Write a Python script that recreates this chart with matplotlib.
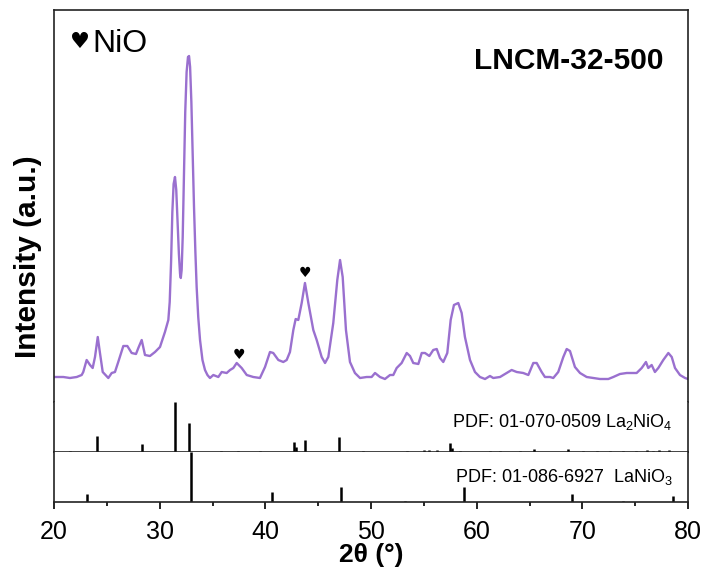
import numpy as np
import matplotlib
matplotlib.use("Agg")
import matplotlib.pyplot as plt

plt.rcParams['font.family'] = ['Liberation Sans', 'DejaVu Sans']
plt.rcParams['mathtext.fontset'] = 'custom'
plt.rcParams['mathtext.rm'] = 'Liberation Sans'
plt.rcParams['mathtext.it'] = 'Liberation Sans:italic'
plt.rcParams['mathtext.bf'] = 'Liberation Sans:bold'

# XRD pattern of LNCM-32-500
two_theta = [20.09, 20.88, 21.51, 22.15, 22.62, 22.77, 23.09, 23.41, 23.66, 23.88,
             24.14, 24.35, 24.61, 25.14, 25.46, 25.77, 26.08, 26.56, 26.94, 27.35,
             27.76, 27.98, 28.30, 28.61, 29.08, 29.56, 30.03, 30.50, 30.82, 30.95,
             31.08, 31.20, 31.32, 31.45, 31.57, 31.70, 31.82, 31.93, 32.00, 32.08,
             32.18, 32.30, 32.42, 32.55, 32.68, 32.78, 32.88, 33.00, 33.12, 33.25,
             33.38, 33.50, 33.65, 33.82, 34.05, 34.29, 34.52, 34.76, 35.08, 35.55,
             35.87, 36.34, 36.66, 36.97, 37.29, 37.76, 38.24, 38.86, 39.49, 39.97,
             40.44, 40.75, 41.23, 41.70, 42.02, 42.33, 42.65, 42.87, 43.12, 43.44,
             43.75, 44.07, 44.54, 44.86, 45.33, 45.65, 45.96, 46.43, 46.81, 47.07,
             47.32, 47.63, 48.01, 48.48, 48.96, 49.59, 50.06, 50.38, 50.85, 51.32,
             51.80, 52.11, 52.43, 52.90, 53.38, 53.69, 54.00, 54.48, 54.80, 55.11,
             55.52, 55.89, 56.22, 56.53, 56.84, 57.22, 57.54, 57.85, 58.26, 58.58,
             58.89, 59.37, 59.84, 60.31, 60.79, 61.26, 61.57, 62.21, 62.84, 63.31,
             63.79, 64.41, 64.89, 65.36, 65.68, 66.15, 66.46, 66.94, 67.25, 67.72,
             68.20, 68.52, 68.83, 69.30, 69.78, 70.41, 71.04, 71.67, 72.46, 72.93,
             73.56, 74.20, 75.14, 75.62, 76.02, 76.24, 76.56, 76.87, 77.19, 77.66,
             78.14, 78.46, 78.77, 79.24, 79.72, 80.00]
intensity = [25, 25, 24, 25, 27, 30, 42, 37, 34, 45,
             65, 49, 30, 24, 29, 30, 40, 56, 56, 49,
             48, 54, 62, 47, 46, 50, 55, 70, 82, 100,
             140, 190, 218, 225, 212, 180, 148, 128, 124, 132,
             165, 230, 290, 330, 345, 346, 335, 300, 250, 195,
             150, 115, 85, 62, 42, 32, 27, 24, 27, 25,
             30, 29, 32, 34, 39, 34, 27, 25, 24, 35,
             50, 49, 42, 40, 42, 50, 72, 83, 82, 99,
             119, 99, 72, 62, 45, 39, 45, 79, 122, 142,
             125, 72, 40, 29, 24, 25, 25, 29, 25, 23,
             27, 27, 34, 39, 49, 46, 39, 38, 49, 49,
             46, 52, 53, 44, 40, 49, 82, 97, 99, 89,
             65, 42, 30, 25, 23, 26, 24, 25, 29, 32,
             30, 29, 27, 39, 39, 30, 25, 25, 24, 30,
             45, 53, 51, 35, 29, 25, 24, 23, 23, 25,
             28, 29, 29, 34, 40, 34, 37, 30, 34, 42,
             49, 45, 34, 27, 24, 23]

# NiO reflections marked with hearts
nio_pos = [37.5, 43.8]
nio_height = [47, 129]

# reference patterns (relative intensity, %)
la2nio4_pos = [21.5, 24.07, 28.3, 31.45, 32.78, 35.8, 37.4, 39.5, 42.7, 42.9,
               43.8, 46.94, 49.2, 53.4, 55.0, 55.5, 56.2, 57.5, 57.7, 58.4,
               61.3, 62.2, 64.1, 65.4, 68.6, 70.05, 71.4, 72.6, 73.85, 75.1,
               76.1, 76.7, 77.3, 78.2]
la2nio4_int = [3, 32, 16, 100, 58, 3, 2, 2, 20, 10,
               24, 30, 2, 3, 5, 5, 5, 18, 8, 3,
               2, 2, 2, 6, 6, 2, 2, 2, 2, 2,
               4, 3, 5, 5]
lanio3_pos = [23.1, 32.93, 40.6, 47.2, 53.2, 58.8, 69.0, 73.85, 78.55]
lanio3_int = [16, 100, 20, 30, 3, 30, 16, 3, 12]

purple = '#9a70cf'

fig = plt.figure(figsize=(7.07, 5.71), dpi=100)
left, width = 54 / 707, 634 / 707
ax1 = fig.add_axes([left, 169 / 571, width, 392 / 571])
ax2 = fig.add_axes([left, 119 / 571, width, 50 / 571], sharex=ax1)
ax3 = fig.add_axes([left, 69 / 571, width, 50 / 571], sharex=ax1)

ax1.plot(two_theta, intensity, color=purple, lw=1.7)
for p, h in zip(nio_pos, nio_height):
    ax1.text(p, h, '♥', fontsize=10, ha='center', va='center',
             family=['DejaVu Sans'])
ax1.set_ylim(0, 392)
ax1.spines['bottom'].set_visible(False)

ax2.vlines(la2nio4_pos, 0, la2nio4_int, color='black', lw=1.8)
ax2.set_ylim(0, 100)
ax2.spines['top'].set_visible(False)

ax3.vlines(lanio3_pos, 0, lanio3_int, color='black', lw=1.8)
ax3.set_ylim(0, 100)
ax3.spines['top'].set_visible(False)

for ax in (ax1, ax2, ax3):
    ax.set_yticks([])
    for s in ax.spines.values():
        s.set_linewidth(1.2)
        s.set_color('#222222')
    ax.tick_params(axis='x', which='both', bottom=False, top=False, labelbottom=False)

ax3.set_xlim(20, 80)
ax3.set_xticks(np.arange(20, 81, 10))
ax3.set_xticks(np.arange(25, 80, 10), minor=True)
ax3.tick_params(axis='x', which='major', bottom=True, labelbottom=True,
                direction='out', length=5, width=1.2, labelsize=18, pad=8)
ax3.tick_params(axis='x', which='minor', bottom=True, direction='out',
                length=3, width=1.2)
ax3.set_xlabel('2θ (°)', fontsize=19, fontweight='bold', labelpad=-1)
ax1.set_ylabel('Intensity (a.u.)', fontsize=21.5, fontweight='bold')
ax1.yaxis.set_label_coords(-0.019, 0.37)

ax1.text(0.041, 0.918, '♥', transform=ax1.transAxes, fontsize=16,
         ha='center', va='center', family=['DejaVu Sans'])
ax1.text(0.06, 0.893, 'NiO', transform=ax1.transAxes, fontsize=23,
         ha='left', va='baseline')
ax1.text(0.9606, 0.87, 'LNCM-32-500', transform=ax1.transAxes, fontsize=21.5,
         fontweight='bold', ha='right', va='center')

ax2.text(0.976, 0.506, r'PDF: 01-070-0509 La$_2$NiO$_4$', transform=ax2.transAxes,
         fontsize=13, ha='right', va='baseline')
ax3.text(0.976, 0.406, r'PDF: 01-086-6927  LaNiO$_3$', transform=ax3.transAxes,
         fontsize=13, ha='right', va='baseline')

fig.savefig('out.png', dpi=100)
